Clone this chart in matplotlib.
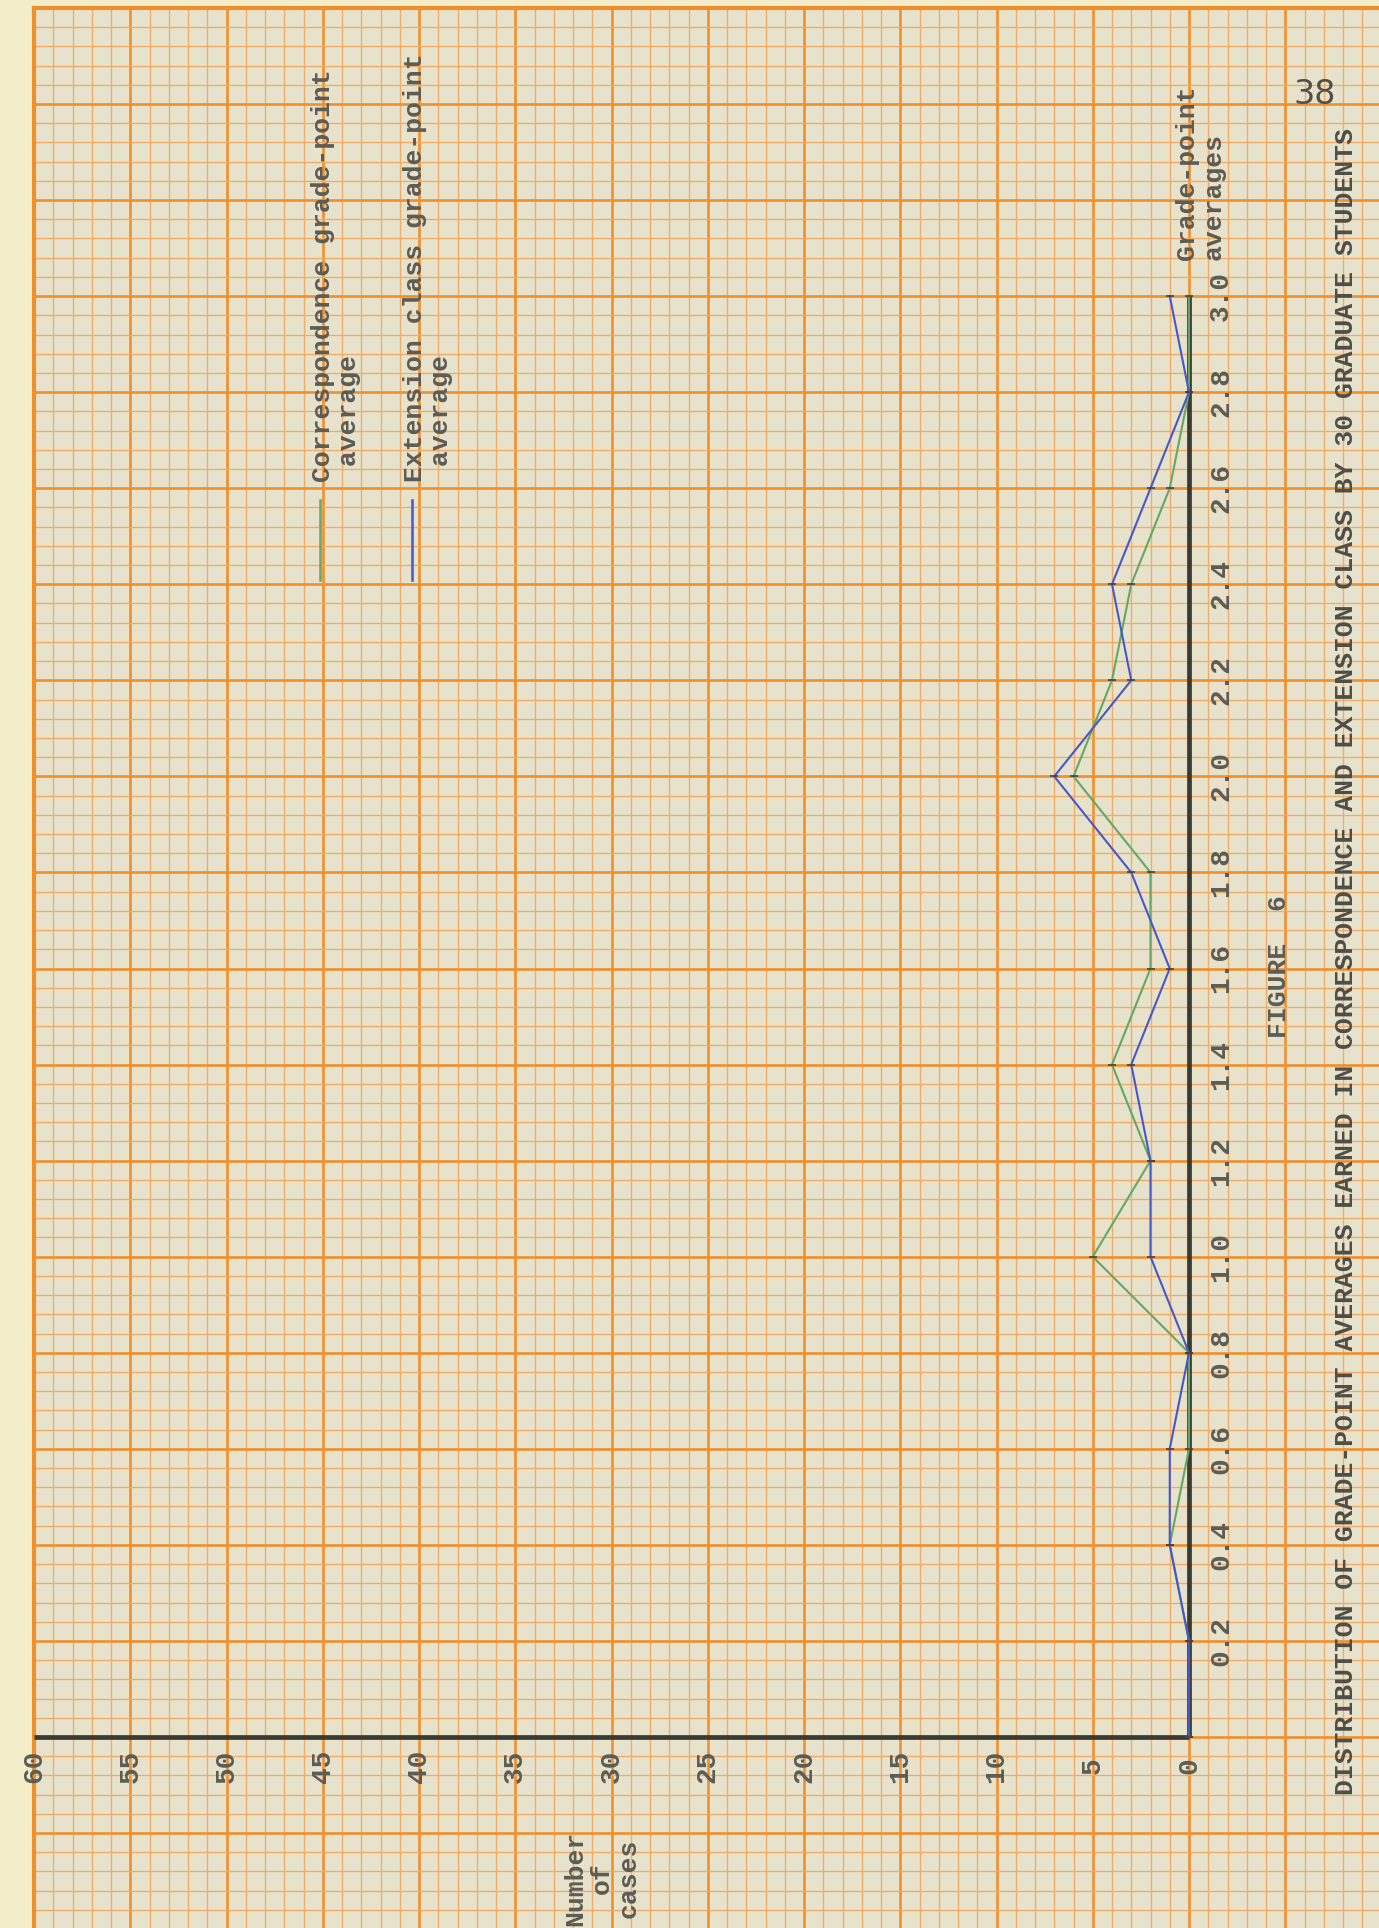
import matplotlib
matplotlib.use("Agg")
import matplotlib.pyplot as plt
from matplotlib.ticker import MultipleLocator
from matplotlib.lines import Line2D

# ---------------- data ----------------
grade_points = [0.0, 0.2, 0.4, 0.6, 0.8, 1.0, 1.2, 1.4, 1.6, 1.8, 2.0, 2.2, 2.4, 2.6, 2.8, 3.0]
correspondence = [0, 0, 1, 0, 0, 5, 2, 4, 2, 2, 6, 4, 3, 1, 0, 0]
extension = [0, 0, 1, 1, 0, 2, 2, 3, 1, 3, 7, 3, 4, 2, 0, 1]
case_ticks = [0, 5, 10, 15, 20, 25, 30, 35, 40, 45, 50, 55, 60]
grade_ticks = [0.2, 0.4, 0.6, 0.8, 1.0, 1.2, 1.4, 1.6, 1.8, 2.0, 2.2, 2.4, 2.6, 2.8, 3.0]
grade_labels = ["0.2", "0.4", "0.6", "0.8", "1.0", "1.2", "1.4", "1.6", "1.8", "2.0",
                "2.2", "2.4", "2.6", "2.8", "3.0"]
title = ("DISTRIBUTION OF GRADE-POINT AVERAGES EARNED IN CORRESPONDENCE AND "
         "EXTENSION CLASS BY 30 GRADUATE STUDENTS")

# ---------------- page geometry ----------------
W, H = 1379, 1928
X0, PX_CASE = 1189.0, 19.25     # pixel column of 0 cases, pixels per case
Y0, PX_GRADE = 1737.0, 480.3    # pixel row of grade 0.0, pixels per grade unit
CASE_MAX, GRADE_MAX = 60, 3.6   # edge of graph paper

TYPE = ["Liberation Mono", "DejaVu Sans Mono"]
INK = "#5c5c55"
PAPER = "#f3edc9"
GRIDFACE = "#e6e2cc"
MAJOR = "#f0902c"
MINOR = "#f3aa66"
GREEN = "#64a866"
BLUE = "#4858c6"
AXIS = "#3a3a32"

fig = plt.figure(figsize=(W / 100, H / 100), dpi=100, facecolor=PAPER)
left_px = X0 - CASE_MAX * PX_CASE
top_px = Y0 - GRADE_MAX * PX_GRADE
ax = fig.add_axes([left_px / W, 0, (W - left_px) / W, (H - top_px) / H])
ax.set_facecolor(GRIDFACE)
ax.set_xlim(CASE_MAX, (X0 - W) / PX_CASE)
ax.set_ylim((Y0 - H) / PX_GRADE, GRADE_MAX)

# graph paper
ax.xaxis.set_major_locator(MultipleLocator(5))
ax.xaxis.set_minor_locator(MultipleLocator(1))
ax.yaxis.set_major_locator(MultipleLocator(0.2))
ax.yaxis.set_minor_locator(MultipleLocator(0.04))
ax.grid(which="minor", color=MINOR, lw=0.95, zorder=0)
ax.grid(which="major", color=MAJOR, lw=1.9, zorder=0)
ax.set_axisbelow(True)
ax.tick_params(which="both", length=0, labelbottom=False, labelleft=False)
for s in ["left", "top"]:
    ax.spines[s].set_color(MAJOR)
    ax.spines[s].set_linewidth(3.0)
for s in ["right", "bottom"]:
    ax.spines[s].set_visible(False)

# chart axes
ax.plot([case_ticks[-1], 0], [0, 0], color=AXIS, lw=3.4, solid_capstyle="butt", zorder=3)
ax.plot([0, 0], [0, grade_ticks[-1]], color=AXIS, lw=3.4, solid_capstyle="butt", zorder=3)

# data lines
ax.plot(correspondence, grade_points, color=GREEN, lw=1.5, zorder=4,
        marker="_", ms=6, mec="#444444", mew=1.2)
ax.plot(extension, grade_points, color=BLUE, lw=1.5, zorder=5,
        marker="_", ms=6, mec="#444444", mew=1.2)

# tick labels
fs = 19
WT = "bold"
for c in case_ticks:
    ax.text(c, (Y0 - 1766) / PX_GRADE, str(c), rotation=90, ha="center", va="center",
            family=TYPE, fontsize=fs + 1, fontweight=WT, color=INK, zorder=6)
for g, lab in zip(grade_ticks, grade_labels):
    ax.text((X0 - 1221) / PX_CASE, g, lab, rotation=90, ha="center", va="center",
            family=TYPE, fontsize=fs + 1, fontweight=WT, color=INK, zorder=6)


def ftext(x, y, s, **kw):
    kw.setdefault("family", TYPE)
    kw.setdefault("fontsize", fs)
    kw.setdefault("fontweight", WT)
    kw.setdefault("color", INK)
    fig.text(x / W, 1 - y / H, s, **kw)


ftext(1200, 260, "Grade-point\naverages", rotation=90, ha="center", va="bottom",
      multialignment="left", linespacing=1.15)
ftext(602, 1878, "Number\nof\ncases", rotation=90, ha="center", va="center",
      multialignment="center", linespacing=1.15)
ftext(1279, 967, "FIGURE  6", rotation=90, ha="center", va="center")
ftext(1346, 962, title, rotation=90, ha="center", va="center", color="#4e4e48")
ftext(1315, 95, "38", ha="center", va="center", fontsize=24, family=["DejaVu Sans"],
      fontweight="normal", color="#505048")

# legend
for xc, col, lab in [(320, GREEN, "Correspondence grade-point\n average"),
                     (412, BLUE, "Extension class grade-point\n average")]:
    fig.add_artist(Line2D([xc / W, xc / W], [1 - 500 / H, 1 - 580 / H], color=col, lw=1.8))
    ftext(xc + 16, 482, lab, rotation=90, ha="center", va="bottom",
          multialignment="left", linespacing=1.15)

fig.savefig("out.png", dpi=100, facecolor=PAPER)
